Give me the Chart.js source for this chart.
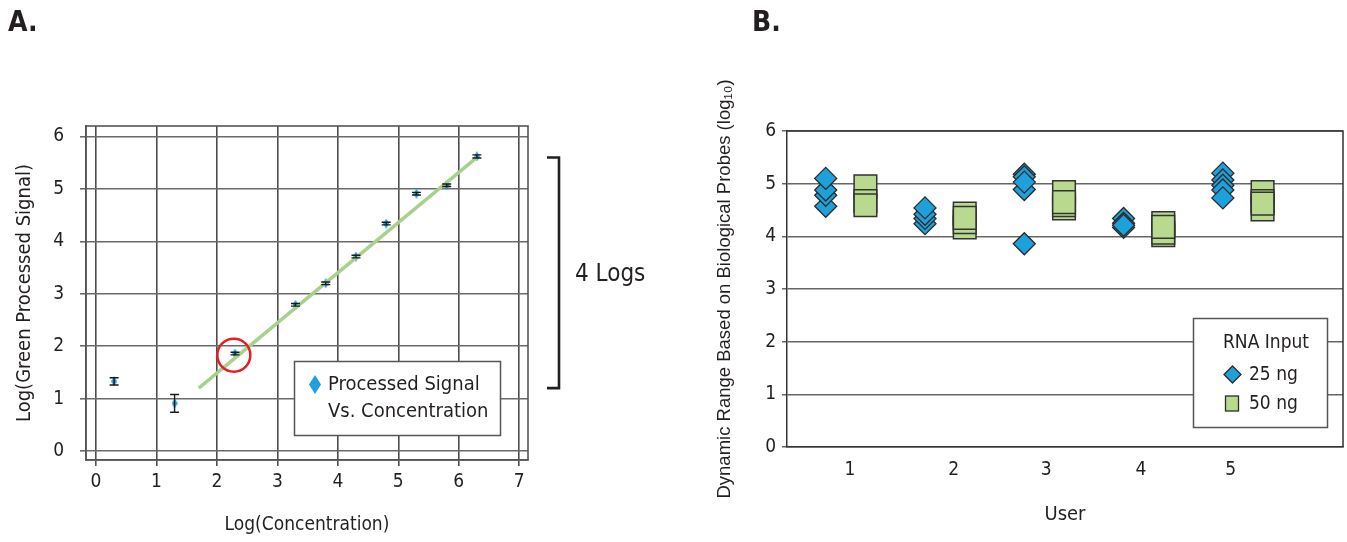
<!DOCTYPE html>
<html>
<head>
<meta charset="utf-8">
<title>Processed signal and dynamic range</title>
<script src="https://cdn.jsdelivr.net/npm/chart.js@4.4.1/dist/chart.umd.min.js"></script>
<style>
  html, body { margin: 0; padding: 0; background: #fff; }
  body { width: 1347px; height: 542px; position: relative; overflow: hidden; }
  #wrapA { position: absolute; left: 0; top: 0; width: 680px; height: 542px; }
  #wrapB { position: absolute; left: 680px; top: 0; width: 667px; height: 542px; }
</style>
</head>
<body>
<div id="wrapA"><canvas id="chartA" width="680" height="542"></canvas></div>
<div id="wrapB"><canvas id="chartB" width="667" height="542"></canvas></div>
<script>
// ---- panel A data
var concX     = [0.3, 1.3, 2.3, 3.3, 3.8, 4.3, 4.8, 5.3, 5.8, 6.3];
var signalY   = [1.33, 0.91, 1.86, 2.79, 3.2, 3.71, 4.34, 4.91, 5.07, 5.62];
var signalErr = [0.07, 0.17, 0.025, 0.025, 0.025, 0.025, 0.025, 0.025, 0.025, 0.03];
var fitX = [1.7, 6.3];
var fitY = [1.2, 5.6];
var circledX = [2.28];
var circledY = [1.83];
var ticksAX = [0, 1, 2, 3, 4, 5, 6, 7];
var ticksAY = [0, 1, 2, 3, 4, 5, 6];

// ---- panel B data (one list per user, in drawing order)
var users = ['1', '2', '3', '4', '5'];
var ng25 = [
  [4.57, 4.78, 4.88, 5.10],
  [4.24, 4.34, 4.42, 4.54],
  [5.18, 5.13, 4.89, 5.03, 3.86],
  [4.34, 4.25, 4.17, 4.21],
  [5.20, 5.07, 4.97, 4.88, 4.73]
];
var ng50 = [
  [4.95, 4.67, 4.59],
  [4.17, 4.27, 4.43, 4.35],
  [4.53, 4.59, 4.84, 4.65],
  [4.02, 4.07, 4.25, 4.18],
  [4.51, 4.84, 4.67, 4.62]
];
var ticksBY = [0, 1, 2, 3, 4, 5, 6];

var COND = "'Liberation Sans Narrow', 'DejaVu Sans Condensed', 'Arial Narrow', sans-serif";
var INK = '#231f20';
var BLUE = '#1ea0da';
var GREEN = '#b9d98f';
// where the original put its user labels (not quite centred under each pair)
var userLabelAt = [1.045, 2.09, 3.02, 3.975, 4.88];

function fixedTicks(values) {
  return function (scale) {
    scale.ticks = values.map(function (v) { return { value: v }; });
  };
}

function tallDiamond(w, h) {
  var c = document.createElement('canvas');
  c.width = w; c.height = h;
  var g = c.getContext('2d');
  g.fillStyle = BLUE;
  g.beginPath();
  g.moveTo(w / 2, 0); g.lineTo(w, h / 2); g.lineTo(w / 2, h); g.lineTo(0, h / 2);
  g.closePath();
  g.fill();
  return c;
}

var smallDiamond = tallDiamond(6, 10);
var legendDiamond = tallDiamond(12, 19);

// box, error bars, bracket, legend for panel A
var extrasA = {
  id: 'extrasA',
  beforeDatasetsDraw: function (chart) {
    var a = chart.chartArea, ctx = chart.ctx;
    ctx.save();
    ctx.strokeStyle = '#555';
    ctx.lineWidth = 1.6;
    ctx.strokeRect(a.left, a.top, a.right - a.left, a.bottom - a.top);
    ctx.restore();
  },
  afterDatasetsDraw: function (chart) {
    var ctx = chart.ctx, xs = chart.scales.x, ys = chart.scales.y;
    ctx.save();
    ctx.strokeStyle = '#1a1a1a';
    ctx.lineWidth = 1.4;
    concX.forEach(function (cx, i) {
      var px = xs.getPixelForValue(cx);
      var top = ys.getPixelForValue(signalY[i] + signalErr[i]);
      var bot = ys.getPixelForValue(signalY[i] - signalErr[i]);
      ctx.beginPath();
      ctx.moveTo(px, top); ctx.lineTo(px, bot);
      ctx.moveTo(px - 4.5, top); ctx.lineTo(px + 4.5, top);
      ctx.moveTo(px - 4.5, bot); ctx.lineTo(px + 4.5, bot);
      ctx.stroke();
    });
    ctx.restore();
  },
  afterDraw: function (chart) {
    var ctx = chart.ctx, ys = chart.scales.y;
    ctx.save();
    // bracket spanning the fitted range
    var yTop = ys.getPixelForValue(fitY[1]);
    var yBot = ys.getPixelForValue(fitY[0]);
    ctx.strokeStyle = INK;
    ctx.lineWidth = 2.6;
    ctx.beginPath();
    ctx.moveTo(547, yTop); ctx.lineTo(559, yTop); ctx.lineTo(559, yBot); ctx.lineTo(547, yBot);
    ctx.stroke();
    ctx.fillStyle = INK;
    ctx.font = '24px ' + COND;
    ctx.textBaseline = 'middle';
    ctx.fillText('4 Logs', 575, 275);

    // legend
    ctx.fillStyle = '#fff';
    ctx.fillRect(294, 361, 206, 74);
    ctx.strokeStyle = '#555';
    ctx.lineWidth = 1.5;
    ctx.strokeRect(294.5, 361.5, 206, 74);
    ctx.drawImage(legendDiamond, 309, 375);
    ctx.fillStyle = INK;
    ctx.font = '20px ' + COND;
    ctx.fillText('Processed Signal', 328, 385);
    ctx.fillText('Vs. Concentration', 328, 412);

    ctx.font = 'bold 28px ' + COND;
    ctx.textBaseline = 'alphabetic';
    ctx.fillText('A.', 8, 31);
    ctx.restore();
  }
};

new Chart(document.getElementById('chartA'), {
  type: 'scatter',
  data: {
    datasets: [
      {
        label: 'circled',
        data: circledX.map(function (x, i) { return { x: x, y: circledY[i] }; }),
        pointStyle: 'circle',
        pointRadius: 16.5,
        backgroundColor: 'rgba(0,0,0,0)',
        borderColor: '#e31e24',
        borderWidth: 2.5
      },
      {
        label: 'fit',
        type: 'line',
        data: fitX.map(function (x, i) { return { x: x, y: fitY[i] }; }),
        borderColor: '#a8d18c',
        borderWidth: 3.5,
        pointRadius: 0,
        fill: false
      },
      {
        label: 'Processed Signal Vs. Concentration',
        data: concX.map(function (x, i) { return { x: x, y: signalY[i] }; }),
        pointStyle: smallDiamond
      }
    ]
  },
  options: {
    responsive: false,
    animation: false,
    events: [],
    layout: { autoPadding: false, padding: { left: 0, top: 126, right: 152, bottom: 0 } },
    plugins: { legend: { display: false }, tooltip: { enabled: false } },
    scales: {
      x: {
        type: 'linear',
        min: -0.165,
        max: 7.145,
        afterBuildTicks: fixedTicks(ticksAX),
        afterFit: function (s) { s.height = 82; },
        grid: { color: '#4d4d4d', lineWidth: 1.6, tickLength: 6 },
        border: { display: true, color: '#555', width: 1.6 },
        ticks: { color: INK, font: { family: COND, size: 19 }, padding: 5, maxRotation: 0 },
        title: { display: true, text: 'Log(Concentration)', color: INK, font: { family: COND, size: 19 }, padding: { top: 0, bottom: 6 } }
      },
      y: {
        min: -0.17,
        max: 6.2,
        afterBuildTicks: fixedTicks(ticksAY),
        afterFit: function (s) { s.width = 86; },
        grid: { color: '#6b6b6b', lineWidth: 1.6, tickLength: 6 },
        border: { display: true, color: '#555', width: 1.6 },
        ticks: { color: INK, font: { family: COND, size: 19 }, padding: 16 },
        title: { display: true, text: 'Log(Green Processed Signal)', color: INK, font: { family: COND, size: 20 }, padding: { top: 13, bottom: 0 } }
      }
    }
  },
  plugins: [extrasA]
});

// ---- panel B
var diamondPts = [], squarePts = [];
ng25.forEach(function (vals, i) {
  vals.forEach(function (v) { diamondPts.push({ x: i + 1 - 0.2, y: v }); });
});
ng50.forEach(function (vals, i) {
  vals.forEach(function (v) { squarePts.push({ x: i + 1 + 0.2, y: v }); });
});

var extrasB = {
  id: 'extrasB',
  beforeDatasetsDraw: function (chart) {
    var a = chart.chartArea, ctx = chart.ctx;
    ctx.save();
    ctx.strokeStyle = '#333';
    ctx.lineWidth = 1.5;
    ctx.beginPath();
    ctx.moveTo(a.left, a.top); ctx.lineTo(a.right, a.top); ctx.lineTo(a.right, a.bottom);
    ctx.stroke();
    ctx.restore();
  },
  afterDraw: function (chart) {
    var ctx = chart.ctx;
    ctx.save();
    ctx.fillStyle = '#fff';
    ctx.fillRect(513, 318, 134, 109);
    ctx.strokeStyle = '#555';
    ctx.lineWidth = 1.5;
    ctx.strokeRect(513.5, 318.5, 134, 109);

    ctx.fillStyle = INK;
    ctx.font = '19px ' + COND;
    ctx.textBaseline = 'middle';
    ctx.textAlign = 'center';
    ctx.fillText('RNA Input', 586, 343);
    ctx.textAlign = 'left';
    ctx.fillText('25 ng', 569, 375);
    ctx.fillText('50 ng', 569, 404);

    // legend symbols
    ctx.lineWidth = 1.3;
    ctx.strokeStyle = '#2b2b2b';
    ctx.fillStyle = BLUE;
    ctx.beginPath();
    ctx.moveTo(552.5, 366); ctx.lineTo(561, 374.5); ctx.lineTo(552.5, 383); ctx.lineTo(544, 374.5);
    ctx.closePath();
    ctx.fill(); ctx.stroke();
    ctx.fillStyle = GREEN;
    ctx.fillRect(545.5, 396, 13, 15);
    ctx.strokeRect(545.5, 396, 13, 15);

    ctx.fillStyle = INK;
    ctx.font = 'bold 28px ' + COND;
    ctx.textBaseline = 'alphabetic';
    ctx.fillText('B.', 72, 31);
    ctx.restore();
  }
};

new Chart(document.getElementById('chartB'), {
  type: 'scatter',
  data: {
    datasets: [
      {
        label: '25 ng',
        data: diamondPts,
        pointStyle: 'rectRot',
        pointRadius: 11,
        backgroundColor: BLUE,
        borderColor: '#2b2b2b',
        borderWidth: 1.3
      },
      {
        label: '50 ng',
        data: squarePts,
        pointStyle: 'rect',
        pointRadius: 16,
        backgroundColor: GREEN,
        borderColor: '#333',
        borderWidth: 1.5
      }
    ]
  },
  options: {
    responsive: false,
    animation: false,
    events: [],
    layout: { autoPadding: false, padding: { left: 0, top: 131, right: 4, bottom: 0 } },
    plugins: { legend: { display: false }, tooltip: { enabled: false } },
    scales: {
      x: {
        type: 'linear',
        min: 0.41,
        max: 6.01,
        afterBuildTicks: fixedTicks(userLabelAt),
        afterFit: function (s) { s.height = 95; },
        grid: { display: false, drawTicks: false },
        border: { display: true, color: '#333', width: 1.5 },
        ticks: {
          color: INK, font: { family: COND, size: 19 }, padding: 12, maxRotation: 0,
          callback: function (v, i) { return users[i]; }
        },
        title: { display: true, text: 'User', color: INK, font: { family: COND, size: 20 }, padding: { top: 0, bottom: 15 } }
      },
      y: {
        min: 0,
        max: 6,
        afterBuildTicks: fixedTicks(ticksBY),
        afterFit: function (s) { s.width = 107; },
        grid: { color: '#666', lineWidth: 1.5, tickLength: 5 },
        border: { display: true, color: '#333', width: 1.5 },
        ticks: { color: INK, font: { family: COND, size: 19 }, padding: 6 },
        title: {
          display: true,
          text: 'Dynamic Range Based on Biological Probes (log\u2081\u2080)',
          color: INK,
          font: { family: "'Liberation Sans', Arial, sans-serif", size: 18.5 },
          padding: { top: 34, bottom: 0 }
        }
      }
    }
  },
  plugins: [extrasB]
});
</script>
</body>
</html>
